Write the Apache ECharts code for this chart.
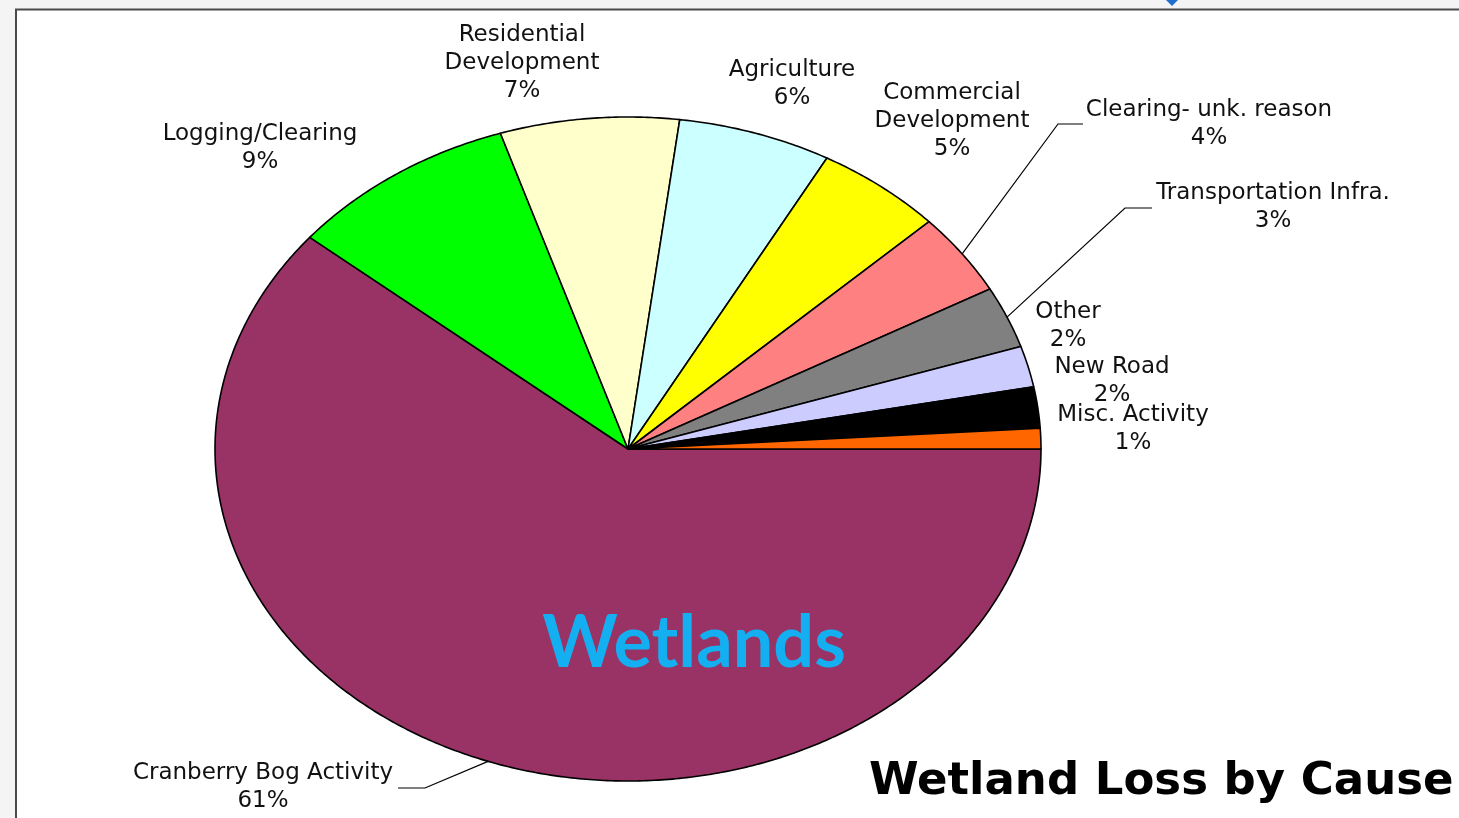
<!DOCTYPE html>
<html><head><meta charset="utf-8">
<script src="https://cdn.jsdelivr.net/npm/echarts@6/dist/echarts.min.js"></script>
<style>html,body{margin:0;padding:0;background:#f4f4f4}#c{width:1459px;height:818px}</style>
</head><body><div id="c"></div>
<script>
// ---- data ----
const categories = ['Cranberry Bog Activity', 'Logging/Clearing', 'Residential\nDevelopment', 'Agriculture',
  'Commercial\nDevelopment', 'Clearing- unk. reason', 'Transportation Infra.', 'Other', 'New Road', 'Misc. Activity'];
const percents = [61, 9, 7, 6, 5, 4, 3, 2, 2, 1];
const chartTitle = 'Wetland Loss by Cause';
const overlayText = 'Wetlands';

// ---- styles / layout ----
const colors = ['#993366', '#00ff00', '#ffffcc', '#ccffff', '#ffff00', '#ff8080', '#808080', '#ccccff', '#000000', '#ff6600'];
const labelPos = [[263, 787], [260, 148], [522, 63], [792, 84], [952, 121], [1209, 124], [1273, 207], [1068, 326], [1112, 381], [1133, 429]];
const leaderPts = { 0: [[425, 788], [398, 788]], 5: [[1058, 124], [1083, 124]], 6: [[1125, 208], [1152, 208]] };

const total = percents.reduce((a, b) => a + b, 0);
function sliceAngles(i) {
  let before = 0;
  for (let k = 0; k < i; k++) before += percents[k];
  const a0 = -before / total * 360;
  const a1 = a0 - percents[i] / total * 360;
  return [a0, a1];
}

const chart = echarts.init(document.getElementById('c'), null, { renderer: 'canvas' });
chart.setOption({
  backgroundColor: '#f4f4f4',
  animation: false,
  grid: { left: 215, top: 117, width: 826, height: 664, containLabel: false },
  xAxis: { type: 'value', min: -1, max: 1, show: false },
  yAxis: { type: 'value', min: -1, max: 1, show: false },
  graphic: [
    { type: 'rect', z: 0, shape: { x: 16, y: 9.5, width: 1500, height: 900 },
      style: { fill: '#ffffff', stroke: '#4a4a4a', lineWidth: 2 } },
    { type: 'polygon', z: 0, shape: { points: [[1166, 0], [1178, 0], [1172, 6]] }, style: { fill: '#1f6fd1' } },
    { type: 'text', z: 100, x: 694, y: 644,
      style: { text: overlayText, font: 'bold 72px Lato', fill: '#13aff0', align: 'center', verticalAlign: 'middle', textAlign: 'center', textVerticalAlign: 'middle' } },
    { type: 'text', z: 100, x: 869, y: 782,
      style: { text: chartTitle, font: 'bold 45px "DejaVu Sans"', fill: '#000', align: 'left', verticalAlign: 'middle', textAlign: 'left', textVerticalAlign: 'middle' } }
  ],
  series: [{
    type: 'custom',
    coordinateSystem: 'cartesian2d',
    clip: false,
    data: percents.map((p, i) => ({ name: categories[i], value: [i, p] })),
    renderItem: function (params, api) {
      const i = params.dataIndex;
      const [a0, a1] = sliceAngles(i);
      const pts = [api.coord([0, 0])];
      const steps = Math.max(2, Math.ceil(Math.abs(a1 - a0) / 0.5));
      for (let s = 0; s <= steps; s++) {
        const a = (a0 + (a1 - a0) * s / steps) * Math.PI / 180;
        pts.push(api.coord([Math.cos(a), Math.sin(a)]));
      }
      const children = [{
        type: 'polygon', shape: { points: pts },
        style: { fill: colors[i], stroke: '#000', lineWidth: 1.6, lineJoin: 'round' }
      }];
      if (leaderPts[i]) {
        const mid = (a0 + a1) / 2 * Math.PI / 180;
        const start = api.coord([Math.cos(mid), Math.sin(mid)]);
        children.push({ type: 'polyline', shape: { points: [start].concat(leaderPts[i]) },
          style: { stroke: '#000', lineWidth: 1.2, fill: null } });
      }
      children.push({
        type: 'text', x: labelPos[i][0], y: labelPos[i][1],
        style: { text: categories[i] + '\n' + percents[i] + '%', font: '23px "DejaVu Sans"', fill: '#111',
          align: 'center', verticalAlign: 'middle', textAlign: 'center', textVerticalAlign: 'middle', lineHeight: 28 }
      });
      return { type: 'group', children: children };
    }
  }]
});
</script></body></html>
